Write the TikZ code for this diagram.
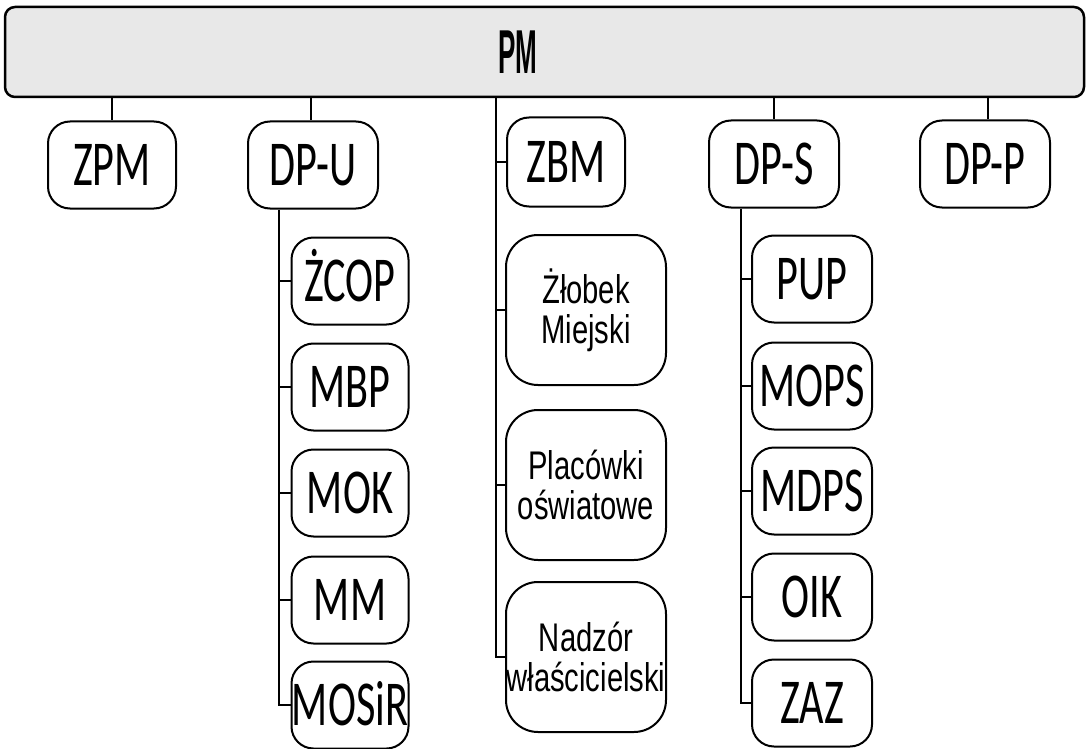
\documentclass[tikz,border=0pt]{standalone}
\usepackage{fontspec}
\newfontfamily\boxfont[FakeStretch=0.66]{Carlito}
\newfontfamily\arialfont[FakeStretch=0.73]{Liberation Sans}
\newfontfamily\pmfont[FakeStretch=0.42]{Liberation Sans}
\tikzset{
  unitbox/.style={draw, line width=2pt, rounded corners=22pt, inner sep=0pt,
    minimum height=87pt, fill=white,
    font=\boxfont\fontsize{64}{66}\selectfont, text height=41pt, text depth=0pt},
  tallbox/.style={draw, line width=2pt, rounded corners=32pt, inner sep=0pt,
    minimum width=160pt, minimum height=150pt, align=center, fill=white,
    font=\arialfont\fontsize{40}{40}\selectfont},
  link/.style={line width=2pt}
}
\begin{document}
\begin{tikzpicture}[x=1pt,y=-1pt]
\useasboundingbox (0,0) rectangle (1087,749);
% top bar
\node[draw, line width=2.5pt, rounded corners=10pt, fill=black!9,
  minimum width=1079pt, minimum height=90pt, inner sep=0pt] (PM) at (544.5,52) {};
\node[font=\pmfont\bfseries\fontsize{62}{64}\selectfont, text height=44pt, text depth=0pt, inner sep=0pt] (PMtxt) at (518,52) {PM};
% first level
\node[unitbox, minimum width=128pt] (ZPM) at (112,165) {ZPM};
\node[unitbox, minimum width=130pt] (DPU) at (313,165) {DP-U};
\node[unitbox, minimum width=118pt, minimum height=89pt] (ZBM) at (566,162) {ZBM};
\node[unitbox, minimum width=130pt] (DPS) at (774,164) {DP-S};
\node[unitbox, minimum width=130pt] (DPP) at (985,164) {DP-P};
% DP-U children
\node[unitbox, minimum width=117pt] (ZCOP) at (350,281) {ŻCOP};
\node[unitbox, minimum width=117pt] (MBP) at (350,387) {MBP};
\node[unitbox, minimum width=117pt] (MOK) at (350,493) {MOK};
\node[unitbox, minimum width=117pt] (MM) at (350,600) {MM};
\node[unitbox, minimum width=117pt] (MOSIR) at (350,705) {MOSiR};
% ZBM children
\node[tallbox] (ZLOB) at (586,310) {Żłobek\\Miejski};
\node[tallbox] (PLAC) at (586,485) {Placówki\\oświatowe};
\node[tallbox] (NADZ) at (586,657) {Nadzór\\właścicielski};
% DP-S children
\node[unitbox, minimum width=120pt] (PUP) at (812,279) {PUP};
\node[unitbox, minimum width=120pt] (MOPS) at (812,386) {MOPS};
\node[unitbox, minimum width=120pt] (MDPS) at (812,491) {MDPS};
\node[unitbox, minimum width=120pt] (OIK) at (812,597) {OIK};
\node[unitbox, minimum width=120pt] (ZAZ) at (812,703) {ZAZ};
% spines
\coordinate (su) at (279,0);
\coordinate (sz) at (496,0);
\coordinate (ss) at (741,0);
% connectors from PM
\draw[link] (PM.south -| ZPM.north) -- (ZPM.north);
\draw[link] (PM.south -| 311,0) -- (DPU.north -| 311,0);
\draw[link] (PM.south -| DPS.north) -- (DPS.north);
\draw[link] (PM.south -| 988,0) -- (DPP.north -| 988,0);
% ZBM spine
\draw[link] (PM.south -| sz) |- (NADZ.west);
\draw[link] (sz |- ZBM.west) -- (ZBM.west);
\draw[link] (sz |- ZLOB.west) -- (ZLOB.west);
\draw[link] (sz |- PLAC.west) -- (PLAC.west);
% DP-U spine
\draw[link] (DPU.south -| su) |- (MOSIR.west);
\draw[link] (su |- ZCOP.west) -- (ZCOP.west);
\draw[link] (su |- MBP.west) -- (MBP.west);
\draw[link] (su |- MOK.west) -- (MOK.west);
\draw[link] (su |- MM.west) -- (MM.west);
% DP-S spine
\draw[link] (DPS.south -| ss) |- (ZAZ.west);
\draw[link] (ss |- PUP.west) -- (PUP.west);
\draw[link] (ss |- MOPS.west) -- (MOPS.west);
\draw[link] (ss |- MDPS.west) -- (MDPS.west);
\draw[link] (ss |- OIK.west) -- (OIK.west);
\end{tikzpicture}
\end{document}
